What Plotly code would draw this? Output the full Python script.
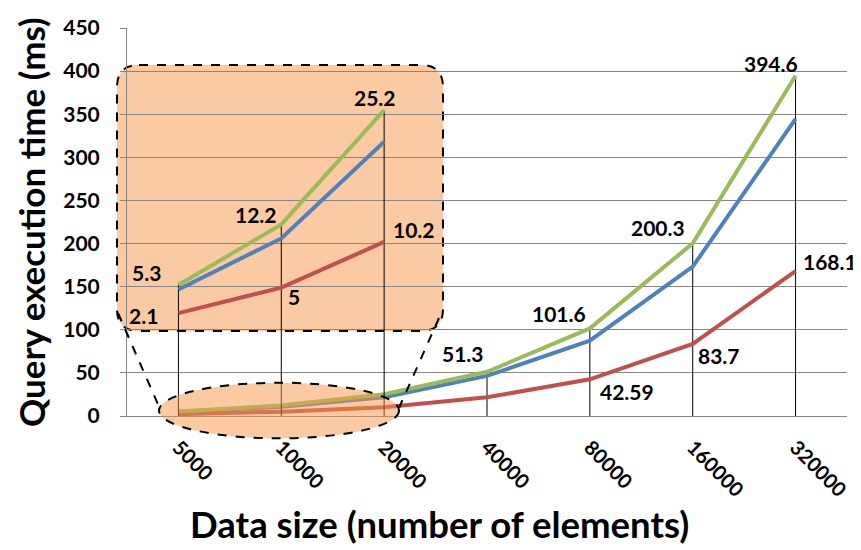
import plotly.graph_objects as go

categories = ["5000", "10000", "20000", "40000", "80000", "160000", "320000"]
green_vals = [5.3, 12.2, 25.2, 51.3, 101.6, 200.3, 394.6]
blue_vals = [4.8, 10.6, 21.6, 46.5, 87.3, 173.2, 344.5]
red_vals = [2.1, 5, 10.2, 21.7, 42.59, 83.7, 168.1]
y_ticks = [0, 50, 100, 150, 200, 250, 300, 350, 400, 450]

GREEN = "#9BBB59"
BLUE = "#4F81BD"
RED = "#C0504D"
FONT = "Lato"

OFF = 8  # page body margin
W, H = 861 - OFF, 550 - OFF
# plot area in screen pixels: x 127..847, y 28..416
L = 127 - OFF
T = 28 - OFF
R = W - (847 - OFF)
B = H - (416 - OFF)
PW, PH = W - L - R, H - T - B

def px(x):
    return (x - OFF - L) / PW

def py(y):
    return (H - B - (y - OFF)) / PH

# inset y axis range (zoomed view of the first three points)
y2_range = [-9.6, 34.54]
n_inset = 3

fig = go.Figure()

# drop lines (main part)
for i in range(n_inset, len(categories)):
    fig.add_trace(go.Scatter(x=[categories[i], categories[i]], y=[0, green_vals[i]],
                             mode="lines", line=dict(color="black", width=1),
                             hoverinfo="skip", showlegend=False))
# drop lines (inset part)
for i in range(n_inset):
    fig.add_trace(go.Scatter(x=[categories[i], categories[i]], y=[y2_range[0], green_vals[i]],
                             mode="lines", line=dict(color="black", width=1), yaxis="y2",
                             hoverinfo="skip", showlegend=False))

for vals, col in [(red_vals, RED), (blue_vals, BLUE), (green_vals, GREEN)]:
    fig.add_trace(go.Scatter(x=categories, y=vals, mode="lines",
                             line=dict(color=col, width=4), showlegend=False))
for vals, col in [(red_vals, RED), (blue_vals, BLUE), (green_vals, GREEN)]:
    fig.add_trace(go.Scatter(x=categories[:n_inset], y=vals[:n_inset], mode="lines",
                             line=dict(color=col, width=4), yaxis="y2", showlegend=False))

def fmt(v):
    return f"{v:g}"

annos = []
lab_font = dict(family=FONT, size=21, color="black")
# inset labels (x given as category index)
green_inset_off = [(-32, 13), (-25, 10), (-9, 13)]
red_inset_off = [(-35, -2), (13, -9), (30, 12)]
for i in range(n_inset):
    for vals, off in [(green_vals, green_inset_off), (red_vals, red_inset_off)]:
        annos.append(dict(x=i, y=vals[i], xref="x", yref="y2", text="<b>" + fmt(vals[i]) + "</b>",
                          showarrow=False, xshift=off[i][0], yshift=off[i][1],
                          font=lab_font))
green_main_off = {3: (-24, 18), 4: (-31, 15), 5: (-35, 16), 6: (-25, 12)}
red_main_off = {4: (37, -12), 5: (26, -12), 6: (34, 10)}
for i, off in green_main_off.items():
    annos.append(dict(x=i, y=green_vals[i], xref="x", yref="y", text="<b>" + fmt(green_vals[i]) + "</b>",
                      showarrow=False, xshift=off[0], yshift=off[1], font=lab_font))
for i, off in red_main_off.items():
    annos.append(dict(x=i, y=red_vals[i], xref="x", yref="y", text="<b>" + fmt(red_vals[i]) + "</b>",
                      showarrow=False, xshift=off[0], yshift=off[1], font=lab_font))

annos.append(dict(xref="paper", yref="paper", x=px(439), y=py(524), text="<b>Data size (number of elements)</b>",
                  showarrow=False, font=dict(family=FONT, size=36.5, color="black"),
                  xanchor="center", yanchor="middle"))
annos.append(dict(xref="paper", yref="paper", x=px(31), y=py(222), text="<b>Query execution time (ms)</b>",
                  showarrow=False, font=dict(family=FONT, size=35, color="black"),
                  textangle=-90, xanchor="center", yanchor="middle"))

# rounded inset rectangle
x0, x1, y0, y1 = px(117), px(443), py(331), py(65)
rx, ry = 22 / PW, 22 / PH
path = (f"M {x0+rx},{y1} L {x1-rx},{y1} Q {x1},{y1} {x1},{y1-ry} "
        f"L {x1},{y0+ry} Q {x1},{y0} {x1-rx},{y0} L {x0+rx},{y0} "
        f"Q {x0},{y0} {x0},{y0+ry} L {x0},{y1-ry} Q {x0},{y1} {x0+rx},{y1} Z")
shapes = [
    dict(type="path", path=path, xref="x domain", yref="y domain", layer="below",
         fillcolor="rgba(247,150,70,0.5)", line=dict(color="black", width=2, dash="dash")),
    dict(type="circle", xref="x domain", yref="y domain", layer="above",
         x0=px(159), x1=px(399), y0=py(438.3), y1=py(382.7),
         fillcolor="rgba(247,150,70,0.5)", line=dict(color="black", width=2, dash="dash")),
    dict(type="line", xref="paper", yref="paper", layer="above",
         x0=px(118), y0=py(313), x1=px(160), y1=py(409),
         line=dict(color="black", width=2, dash="dash")),
    dict(type="line", xref="paper", yref="paper", layer="above",
         x0=px(439), y0=py(318), x1=px(399), y1=py(408),
         line=dict(color="black", width=2, dash="dash")),
]

fig.update_layout(
    width=W, height=H,
    margin=dict(l=L, r=R, t=T, b=B, autoexpand=False),
    paper_bgcolor="white", plot_bgcolor="rgba(0,0,0,0)",
    showlegend=False,
    annotations=annos,
    shapes=shapes,
    xaxis=dict(type="category", categoryorder="array", categoryarray=categories,
               range=[-0.5, len(categories) - 0.5], automargin=False,
               showgrid=False, showline=True, linecolor="#868686", linewidth=1,
               ticks="", tickangle=45, ticklabelstandoff=11,
               tickfont=dict(family=FONT, size=20, color="black", weight="bold")),
    yaxis=dict(range=[0, 450], tickvals=y_ticks, showgrid=True, gridcolor="#868686",
               gridwidth=1, showline=True, linecolor="#868686", linewidth=1, automargin=False,
               ticks="outside", ticklen=6, tickcolor="#868686", zeroline=False,
               ticklabelstandoff=16,
               tickfont=dict(family=FONT, size=21, color="black", weight="bold")),
    yaxis2=dict(range=y2_range, overlaying="y", visible=False, showgrid=False),
)

fig.write_html("out.html")
